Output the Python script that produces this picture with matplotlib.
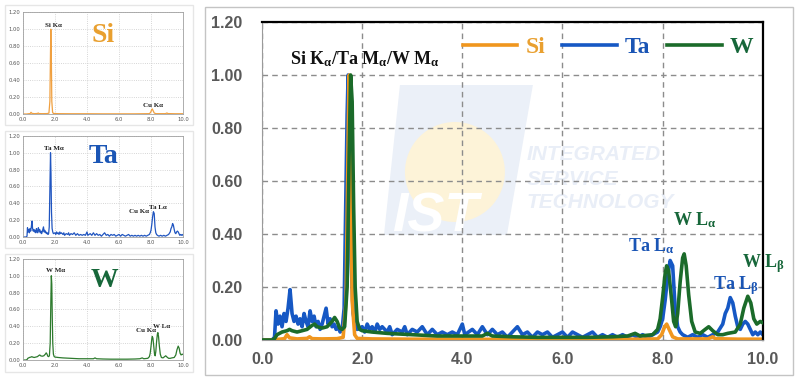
import matplotlib
matplotlib.use("Agg")
import matplotlib.pyplot as plt
from matplotlib.patches import Rectangle, Polygon, Ellipse

plt.rcParams['mathtext.fontset'] = 'custom'
plt.rcParams['mathtext.rm'] = 'Liberation Serif:bold'
plt.rcParams['mathtext.bf'] = 'Liberation Serif:bold'
plt.rcParams['mathtext.it'] = 'Liberation Serif:bold'

# normalised EDS spectra (energy keV, counts)
si_x = [0.0, 0.25, 0.3, 0.45, 0.5, 0.55, 0.7, 0.9, 0.95, 1.0, 1.2, 1.5, 1.62, 1.68, 1.72, 1.74,
        1.77, 1.8, 1.85, 1.9, 2.2, 3.0, 4.0, 5.0, 6.0, 7.0, 7.9, 7.98, 8.04, 8.08, 8.13, 8.2,
        8.3, 8.9, 9.0, 9.05, 9.5, 10.0]
si_y = [0.0, 0.0, 0.002, 0.005, 0.02, 0.008, 0.004, 0.006, 0.012, 0.005, 0.004, 0.005, 0.01,
        0.15, 0.75, 1.0, 0.7, 0.15, 0.02, 0.006, 0.004, 0.003, 0.003, 0.002, 0.002, 0.002,
        0.004, 0.02, 0.05, 0.06, 0.04, 0.012, 0.004, 0.004, 0.012, 0.005, 0.003, 0.003]

ta_x = [0.0, 0.2, 0.25, 0.28, 0.32, 0.36, 0.40, 0.44, 0.48, 0.52, 0.56, 0.60, 0.64, 0.68, 0.72,
        0.76, 0.80, 0.84, 0.88, 0.92, 0.96, 1.00, 1.04, 1.08, 1.12, 1.16, 1.20, 1.24, 1.28,
        1.32, 1.36, 1.40, 1.44, 1.48, 1.52, 1.56, 1.60, 1.64, 1.67, 1.70, 1.72, 1.75, 1.78,
        1.82, 1.86, 1.90, 2.0, 2.05, 2.1, 2.15, 2.2, 2.25, 2.3, 2.35, 2.4, 2.5, 2.55, 2.6, 2.7,
        2.8, 2.85, 2.9, 3.0, 3.1, 3.2, 3.3, 3.4, 3.5, 3.6, 3.7, 3.8, 3.9, 4.0, 4.05, 4.2, 4.3,
        4.4, 4.5, 4.6, 4.7, 4.8, 4.9, 5.0, 5.1, 5.2, 5.3, 5.4, 5.5, 5.6, 5.7, 5.8, 5.9, 6.0,
        6.1, 6.2, 6.3, 6.4, 6.5, 6.6, 6.7, 6.8, 6.9, 7.0, 7.1, 7.2, 7.3, 7.4, 7.5, 7.6, 7.7,
        7.8, 7.9, 7.95, 8.0, 8.05, 8.1, 8.15, 8.2, 8.25, 8.3, 8.35, 8.4, 8.5, 8.6, 8.7, 8.8,
        8.9, 9.0, 9.1, 9.2, 9.25, 9.3, 9.35, 9.4, 9.45, 9.5, 9.55, 9.6, 9.65, 9.7, 9.75, 9.8,
        9.85, 9.9, 9.95, 10.0]
ta_y = [0.0, 0.0, 0.01, 0.11, 0.06, 0.09, 0.05, 0.10, 0.07, 0.12, 0.19, 0.10, 0.07, 0.09, 0.06,
        0.08, 0.05, 0.10, 0.07, 0.05, 0.11, 0.07, 0.09, 0.05, 0.07, 0.04, 0.06, 0.09, 0.12,
        0.06, 0.08, 0.05, 0.06, 0.04, 0.05, 0.03, 0.04, 0.12, 0.48, 0.85, 1.00, 0.75, 0.30,
        0.10, 0.06, 0.04, 0.05, 0.03, 0.06, 0.04, 0.05, 0.03, 0.06, 0.04, 0.05, 0.03, 0.05,
        0.02, 0.04, 0.03, 0.05, 0.02, 0.04, 0.03, 0.05, 0.02, 0.04, 0.02, 0.03, 0.02, 0.03,
        0.02, 0.06, 0.02, 0.04, 0.02, 0.05, 0.02, 0.04, 0.02, 0.03, 0.01, 0.03, 0.05, 0.02,
        0.03, 0.01, 0.03, 0.02, 0.03, 0.01, 0.02, 0.03, 0.01, 0.03, 0.02, 0.01, 0.02, 0.03,
        0.01, 0.02, 0.01, 0.02, 0.01, 0.02, 0.01, 0.02, 0.01, 0.02, 0.01, 0.02, 0.03, 0.05,
        0.08, 0.15, 0.24, 0.30, 0.28, 0.12, 0.05, 0.03, 0.02, 0.01, 0.02, 0.01, 0.02, 0.01,
        0.02, 0.03, 0.06, 0.10, 0.12, 0.16, 0.14, 0.09, 0.05, 0.04, 0.06, 0.07, 0.06, 0.04,
        0.02, 0.03, 0.02, 0.03, 0.02]

w_x = [0.0, 0.2, 0.25, 0.3, 0.4, 0.5, 0.55, 0.6, 0.7, 0.8, 0.9, 1.0, 1.05, 1.1, 1.2, 1.3, 1.4,
       1.45, 1.5, 1.55, 1.6, 1.65, 1.7, 1.74, 1.77, 1.8, 1.83, 1.86, 1.9, 1.95, 2.0, 2.2, 2.5,
       3.0, 3.5, 4.0, 4.4, 4.5, 4.6, 5.0, 5.5, 6.0, 6.5, 7.0, 7.3, 7.45, 7.55, 7.8, 7.9, 7.95,
       8.0, 8.05, 8.08, 8.12, 8.18, 8.22, 8.26, 8.3, 8.35, 8.4, 8.43, 8.47, 8.52, 8.58, 8.65,
       8.75, 8.85, 8.92, 9.0, 9.1, 9.2, 9.3, 9.45, 9.55, 9.62, 9.7, 9.76, 9.82, 9.88, 9.95, 10.0]
w_y = [0.0, 0.0, 0.005, 0.02, 0.03, 0.035, 0.04, 0.035, 0.03, 0.035, 0.04, 0.055, 0.06, 0.05,
       0.045, 0.05, 0.07, 0.085, 0.07, 0.045, 0.04, 0.05, 0.2, 0.7, 1.0, 0.9, 0.5, 0.2, 0.07,
       0.04, 0.035, 0.03, 0.025, 0.02, 0.015, 0.015, 0.015, 0.025, 0.015, 0.012, 0.01, 0.01,
       0.01, 0.012, 0.015, 0.025, 0.015, 0.02, 0.04, 0.08, 0.16, 0.25, 0.28, 0.26, 0.15, 0.07,
       0.05, 0.10, 0.22, 0.31, 0.325, 0.28, 0.17, 0.07, 0.03, 0.025, 0.04, 0.05, 0.035, 0.02,
       0.02, 0.025, 0.03, 0.06, 0.12, 0.165, 0.14, 0.08, 0.06, 0.07, 0.065]

y_ticks = [0.0, 0.2, 0.4, 0.6, 0.8, 1.0, 1.2]
x_ticks = [0.0, 2.0, 4.0, 6.0, 8.0, 10.0]

c_si, c_ta, c_w = '#f0961e', '#1658c4', '#1b6b2a'
t_si, t_ta, t_w = '#e9a030', '#1a55b5', '#17673a'
serif = 'Liberation Serif'

fig = plt.figure(figsize=(8, 3.8), dpi=100)

# panel boxes
for (x0, y0, x1, y1, ec) in [(5, 5, 193, 125, '#e6e6e6'), (5, 131, 193, 248, '#e6e6e6'),
                             (5, 254, 193, 372, '#e6e6e6'), (205, 7, 793, 375, '#c4c4c4')]:
    fig.add_artist(Rectangle((x0 / 800, 1 - y1 / 380), (x1 - x0) / 800, (y1 - y0) / 380,
                             transform=fig.transFigure, fill=False, ec=ec, lw=1))

# small single-element panels
small = [
    ([0.02875, 0.700, 0.2, 0.268], si_x, si_y, '#f0a040', 'Si', t_si, (4.3, 0.85),
     [('Si Kα', 1.375, 1.02), ('Cu Kα', 7.5, 0.08)]),
    ([0.02875, 0.3763, 0.2, 0.266], ta_x, ta_y, '#2055c0', 'Ta', t_ta, (4.1, 0.88),
     [('Ta Mα', 1.3, 1.035), ('Cu Kα', 6.6, 0.285), ('Ta Lα', 7.9, 0.33)]),
    ([0.02875, 0.0526, 0.2, 0.266], w_x, w_y, '#2d7a2d', 'W', t_w, (4.2, 0.87),
     [('W Mα', 1.45, 1.05), ('Cu Kα', 7.05, 0.33), ('W Lα', 8.1, 0.38)]),
]
for rect, xs, ys, col, name, tcol, npos, labels in small:
    a = fig.add_axes(rect)
    a.plot(xs, ys, color=col, lw=0.9)
    a.set_xlim(0, 10)
    a.set_ylim(0, 1.2)
    a.set_xticks(x_ticks)
    a.set_yticks(y_ticks)
    a.set_xticklabels(['%.1f' % v for v in x_ticks])
    a.set_yticklabels(['%.2f' % v for v in y_ticks])
    a.tick_params(length=0, labelsize=3.8, labelcolor='#555555', pad=2)
    a.grid(True, ls=':', color='#c8c8c8', lw=0.6)
    for s in a.spines.values():
        s.set_color('#a0a0a0')
        s.set_linewidth(0.6)
    a.text(npos[0], npos[1], name, color=tcol, fontsize=20, fontweight='bold', family=serif)
    for lab, lx, ly in labels:
        a.text(lx, ly, lab, fontsize=5, fontweight='bold', family=serif, color='#222222')

# combined panel
ax = fig.add_axes([0.3275, 0.1053, 0.626, 0.8368])
ax.set_axisbelow(True)

# faint watermark (pixel positions inside the big axes)
def px(xp, yp):
    return ((xp - 262) / 501, (340 - yp) / 318)

ax.add_patch(Polygon([px(400, 85), px(533, 85), px(507, 235), px(384, 235)], closed=True,
                     transform=ax.transAxes, fc='#ebf0f8', ec='none', zorder=0.1))
ax.add_patch(Ellipse(px(455, 172), 100 / 501, 100 / 318, transform=ax.transAxes,
                     fc='#fdf3d8', ec='none', zorder=0.2))
ax.text(*px(392, 218), 'IST', transform=ax.transAxes, fontsize=40, fontweight='bold',
        fontstyle='italic', family='Liberation Sans', color='white', va='center',
        zorder=0.25)
for txt, yp in [('INTEGRATED', 155), ('SERVICE', 180), ('TECHNOLOGY', 203)]:
    ax.text(*px(527, yp), txt, transform=ax.transAxes, fontsize=15, fontweight='bold',
            fontstyle='italic', family='Liberation Sans', color='#e9eef7', va='center',
            zorder=0.3)

ax.plot(ta_x, ta_y, color=c_ta, lw=2.6, label='Ta', zorder=2)
ax.plot(si_x, si_y, color=c_si, lw=2.6, label='Si', zorder=2.5)
ax.plot(w_x, w_y, color=c_w, lw=2.6, label='W', zorder=3)

ax.set_xlim(0, 10)
ax.set_ylim(0, 1.2)
ax.set_xticks(x_ticks)
ax.set_yticks(y_ticks)
ax.set_xticklabels(['%.1f' % v for v in x_ticks])
ax.set_yticklabels(['%.2f' % v for v in y_ticks])
ax.tick_params(length=0, labelsize=11.5, labelcolor='#595959')
ax.tick_params(axis='y', pad=14)
ax.tick_params(axis='x', pad=9)
for lab in ax.get_xticklabels() + ax.get_yticklabels():
    lab.set_fontweight('bold')
    lab.set_family('Liberation Sans')
ax.grid(True, ls=(0, (4, 3)), color='#8c8c8c', lw=1)
ax.spines['top'].set_color('black')
ax.spines['top'].set_linewidth(1.6)
ax.spines['right'].set_color('black')
ax.spines['right'].set_linewidth(1.6)
ax.spines['left'].set_color('#9a9a9a')
ax.spines['bottom'].set_color('#9a9a9a')

h, l = ax.get_legend_handles_labels()
order = [1, 0, 2]
leg = ax.legend([h[i] for i in order], [l[i] for i in order], ncol=3, frameon=False,
                loc='center left', bbox_to_anchor=px(463, 47),
                borderpad=0, borderaxespad=0, handlelength=2.3, handletextpad=0.35,
                columnspacing=0.72, prop={'family': serif, 'weight': 'bold', 'size': 17})
for txt, col in zip(leg.get_texts(), [t_si, t_ta, t_w]):
    txt.set_color(col)

ax.text(0.56, 1.04, r'Si K$_{\alpha}$/Ta M$_{\alpha}$/W M$_{\alpha}$', fontsize=13,
        fontweight='bold', family=serif, color='#111111')
ax.text(7.3, 0.336, r'Ta L$_{\alpha}$', fontsize=13, fontweight='bold', family=serif, color=t_ta)
ax.text(8.2, 0.434, r'W L$_{\alpha}$', fontsize=13, fontweight='bold', family=serif, color=t_w)
ax.text(9.0, 0.19, r'Ta L$_{\beta}$', fontsize=13, fontweight='bold', family=serif, color=t_ta)
ax.text(9.58, 0.275, r'W L$_{\beta}$', fontsize=13, fontweight='bold', family=serif, color=t_w)

fig.savefig('out.png', dpi=100)
